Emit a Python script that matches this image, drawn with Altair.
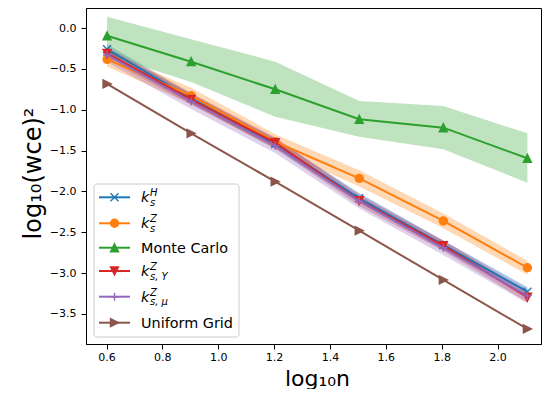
import altair as alt
import pandas as pd

# ---------------- data ----------------
X = [0.602, 0.903, 1.204, 1.505, 1.806, 2.107]          # log10 n, n = 4..128

SERIES = ["kH", "kZ", "Monte Carlo", "kZY", "kZmu", "Uniform Grid"]

Y_KH = [-0.261, -0.860, -1.420, -2.084, -2.656, -3.228]
Y_KZ = [-0.383, -0.829, -1.392, -1.840, -2.362, -2.934]
Y_MC = [-0.094, -0.412, -0.750, -1.117, -1.220, -1.595]
Y_KZY = [-0.310, -0.873, -1.404, -2.114, -2.665, -3.296]
Y_KZMU = [-0.330, -0.900, -1.440, -2.120, -2.690, -3.280]
Y_UG = [-0.685, -1.289, -1.881, -2.481, -3.084, -3.684]

# shaded bands (lower, upper)
LO_KH = [-0.32, -0.92, -1.48, -2.14, -2.72, -3.29]
HI_KH = [-0.20, -0.80, -1.36, -2.02, -2.60, -3.17]
LO_KZ = [-0.47, -0.93, -1.48, -1.94, -2.45, -3.02]
HI_KZ = [-0.29, -0.73, -1.30, -1.74, -2.27, -2.85]
LO_MC = [-0.33, -0.66, -1.086, -1.330, -1.485, -1.893]
HI_MC = [0.138, -0.138, -0.412, -0.894, -0.955, -1.289]
LO_KZY = [-0.38, -0.94, -1.47, -2.18, -2.73, -3.36]
HI_KZY = [-0.24, -0.80, -1.34, -2.05, -2.60, -3.23]
LO_KZMU = [-0.42, -0.99, -1.53, -2.21, -2.78, -3.37]
HI_KZMU = [-0.24, -0.81, -1.35, -2.03, -2.60, -3.19]

X_TICKS = [0.6, 0.8, 1.0, 1.2, 1.4, 1.6, 1.8, 2.0]
Y_TICKS = [-3.5, -3.0, -2.5, -2.0, -1.5, -1.0, -0.5, 0.0]

# legend label pieces (mathtext-like: main, superscript, subscript)
LEG_MAIN = ["k", "k", "Monte Carlo", "k", "k", "Uniform Grid"]
LEG_SUP = ["H", "Z", "", "Z", "Z", ""]
LEG_SUB = ["s", "s", "", "s, Y", "s, μ", ""]

# ---------------- styles ----------------
COLORS = ["#1f77b4", "#ff7f0e", "#2ca02c", "#d62728", "#9467bd", "#8c564b"]
SHAPES = [
    "M-1,-1L1,1M-1,1L1,-1",                       # x
    "M1,0A1,1 0 1,1 -1,0A1,1 0 1,1 1,0Z",          # o
    "M0,-1L1,1L-1,1Z",                             # ^
    "M0,1L1,-1L-1,-1Z",                            # v
    "M-1,0L1,0M0,-1L0,1",                          # +
    "M1,0L-1,-1L-1,1Z",                            # >
]
FILLED = [False, True, True, True, False, True]
MARKER_SIZE = 64
LINE_W = 2
FONT = "DejaVu Sans"

W, H = 455, 336
LEGEND_ROW_Y = [189.3, 215.3, 239.7, 263.0, 288.7, 314.7]  # layout (px in plot area)

# ---------------- tables ----------------
series_y = [Y_KH, Y_KZ, Y_MC, Y_KZY, Y_KZMU, Y_UG]
series_lo = [LO_KH, LO_KZ, LO_MC, LO_KZY, LO_KZMU, None]
series_hi = [HI_KH, HI_KZ, HI_MC, HI_KZY, HI_KZMU, None]

rows = []
for name, ys, los, his in zip(SERIES, series_y, series_lo, series_hi):
    for i, (x, y) in enumerate(zip(X, ys)):
        rows.append({
            "series": name, "x": x, "y": y,
            "lo": los[i] if los else None,
            "hi": his[i] if his else None,
        })
df = pd.DataFrame(rows)

xs = alt.Scale(domain=[0.5266, 2.1557], nice=False, zero=False)
ys = alt.Scale(domain=[-3.868, 0.245], nice=False, zero=False)
x_axis = alt.Axis(values=X_TICKS, format=".1f", title="log₁₀n",
                  titleX=231, titleY=41, titleAlign="center",
                  titleBaseline="alphabetic", titleFontSize=22, labelPadding=2)
y_axis = alt.Axis(values=Y_TICKS, format=".1f", title="log₁₀(wce)²",
                  titleX=-46, titleY=165, titleAngle=270, titleAlign="center",
                  titleBaseline="alphabetic", labelPadding=5)

layers = []
# bands first (zorder below lines)
for name, color, los in zip(SERIES, COLORS, series_lo):
    if los is None:
        continue
    layers.append(
        alt.Chart(df).transform_filter(alt.datum.series == name)
        .mark_area(color=color, opacity=0.3)
        .encode(x=alt.X("x:Q", scale=xs, axis=x_axis),
                y=alt.Y("lo:Q", scale=ys, axis=y_axis),
                y2="hi:Q")
    )
# lines + markers
for name, color, shape, filled in zip(SERIES, COLORS, SHAPES, FILLED):
    base = alt.Chart(df).transform_filter(alt.datum.series == name)
    layers.append(
        base.mark_line(color=color, strokeWidth=LINE_W)
        .encode(x=alt.X("x:Q", scale=xs, axis=x_axis),
                y=alt.Y("y:Q", scale=ys, axis=y_axis))
    )
    layers.append(
        base.mark_point(shape=shape, size=MARKER_SIZE, filled=filled,
                        fill=color if filled else "transparent",
                        stroke=color, strokeWidth=1.4, opacity=1)
        .encode(x=alt.X("x:Q", scale=xs, axis=x_axis),
                y=alt.Y("y:Q", scale=ys, axis=y_axis))
    )

# ---------------- legend (drawn like matplotlib's) ----------------
leg = pd.DataFrame({
    "series": SERIES,
    "ly": LEGEND_ROW_Y,
    "main": LEG_MAIN,
    "sup": LEG_SUP,
    "sub": LEG_SUB,
    "path": SHAPES,
    "fill": [c if f else "transparent" for c, f in zip(COLORS, FILLED)],
    "stroke": COLORS,
    "isk": [m == "k" for m in LEG_MAIN],
})
legbase = alt.Chart(leg).transform_calculate(
    ly_main="datum.ly + 5", ly_sup="datum.ly - 1", ly_sub="datum.ly + 8.5"
)
layers.append(
    alt.Chart(pd.DataFrame({"a": [0]})).mark_rect(
        fill="white", fillOpacity=0.8, stroke="#cccccc", strokeWidth=1,
        cornerRadius=3)
    .encode(x=alt.value(8), x2=alt.value(153), y=alt.value(176), y2=alt.value(329))
)
layers.append(
    legbase.mark_rule(strokeWidth=LINE_W)
    .encode(x=alt.value(13), x2=alt.value(44),
            y=alt.Y("ly:Q", scale=None),
            color=alt.Color("stroke:N", scale=None))
)
layers.append(
    legbase.mark_point(size=MARKER_SIZE, strokeWidth=1.4, opacity=1)
    .encode(x=alt.value(28.5), y=alt.Y("ly:Q", scale=None),
            shape=alt.Shape("path:N", scale=None),
            fill=alt.Fill("fill:N", scale=None),
            stroke=alt.Stroke("stroke:N", scale=None))
)
layers.append(
    legbase.transform_filter("datum.isk")
    .mark_text(font=FONT, fontSize=14.4, fontStyle="italic", align="left",
               baseline="alphabetic", color="black")
    .encode(x=alt.value(55), y=alt.Y("ly_main:Q", scale=None), text="main:N")
)
layers.append(
    legbase.transform_filter("!datum.isk")
    .mark_text(font=FONT, fontSize=14.4, align="left",
               baseline="alphabetic", color="black")
    .encode(x=alt.value(55), y=alt.Y("ly_main:Q", scale=None), text="main:N")
)
layers.append(
    legbase.transform_filter("datum.isk")
    .mark_text(font=FONT, fontSize=10, fontStyle="italic", align="left",
               baseline="alphabetic", color="black")
    .encode(x=alt.value(64), y=alt.Y("ly_sup:Q", scale=None), text="sup:N")
)
layers.append(
    legbase.transform_filter("datum.isk")
    .mark_text(font=FONT, fontSize=10, fontStyle="italic", align="left",
               baseline="alphabetic", color="black")
    .encode(x=alt.value(64), y=alt.Y("ly_sub:Q", scale=None), text="sub:N")
)

chart = (
    alt.layer(*layers)
    .properties(width=W, height=H,
                autosize=alt.AutoSizeParams(type="none"),
                padding={"left": 78, "top": 0, "right": 1, "bottom": 45})
    .configure_view(stroke="black", strokeWidth=1)
    .configure_axis(
        grid=False,
        labelFont=FONT, labelFontSize=11, labelColor="black",
        titleFont=FONT, titleFontSize=24, titleColor="black",
        titleFontWeight="normal",
        tickColor="black", tickSize=5, tickWidth=1,
        domainColor="black", domainWidth=1,
    )
)

chart.save("out.html", embed_options={"renderer": "svg", "actions": False})
